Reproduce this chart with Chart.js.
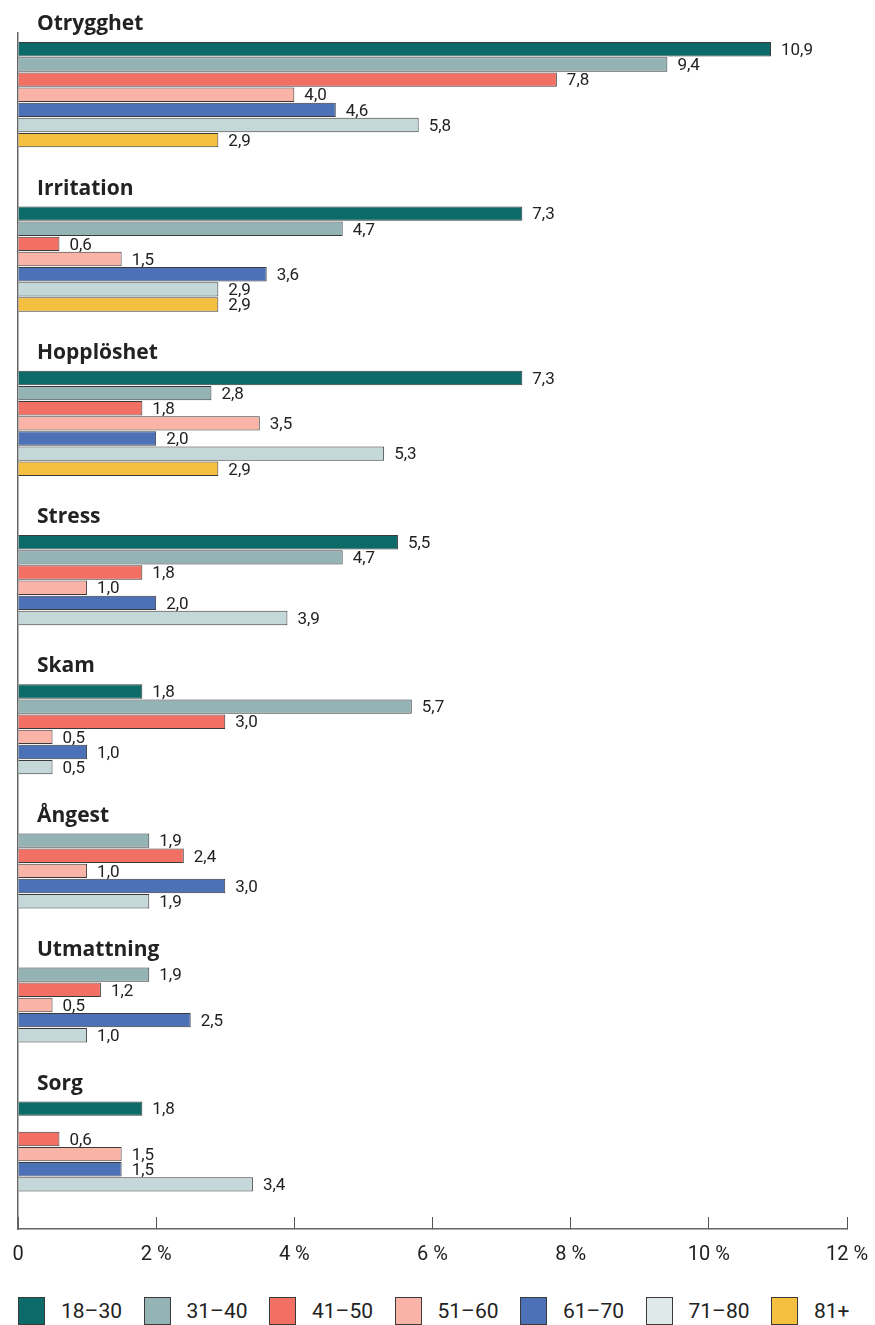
<!DOCTYPE html>
<html>
<head>
<meta charset="utf-8">
<script src="https://cdn.jsdelivr.net/npm/chart.js@4.4.0/dist/chart.umd.min.js"></script>
<style>
  body { margin: 0; background: #fff; }
  #wrap { position: relative; width: 875px; height: 1280px; }
  #legend {
    position: absolute; left: 18px; top: 1297px;
    display: flex; font-family: Roboto, sans-serif; font-size: 21px; color: #222;
  }
  .item { width: 125.5px; display: flex; align-items: center; height: 28px; }
  .box { width: 27px; height: 28px; box-sizing: border-box; border: 1px solid #3a3a3a; margin-right: 16px; }
</style>
</head>
<body>
<div id="wrap"><canvas id="chart"></canvas></div>
<div id="legend"></div>
<script>
// Data
const categories = ["Otrygghet", "Irritation", "Hopplöshet", "Stress", "Skam", "Ångest", "Utmattning", "Sorg"];
const ageGroups = ["18–30", "31–40", "41–50", "51–60", "61–70", "71–80", "81+"];

// percent per age group, same order as categories (null = no bar)
const age18to30 = [10.9, 7.3, 7.3, 5.5, 1.8, null, null, 1.8];
const age31to40 = [9.4, 4.7, 2.8, 4.7, 5.7, 1.9, 1.9, null];
const age41to50 = [7.8, 0.6, 1.8, 1.8, 3.0, 2.4, 1.2, 0.6];
const age51to60 = [4.0, 1.5, 3.5, 1.0, 0.5, 1.0, 0.5, 1.5];
const age61to70 = [4.6, 3.6, 2.0, 2.0, 1.0, 3.0, 2.5, 1.5];
const age71to80 = [5.8, 2.9, 5.3, 3.9, 0.5, 1.9, 1.0, 3.4];
const age81plus = [2.9, 2.9, 2.9, null, null, null, null, null];

const xTicks = [0, 2, 4, 6, 8, 10, 12];

// Colors
const barColors = ["#0c6b69", "#93b3b4", "#f16f63", "#f9b4a7", "#4c71b7", "#c4d7d9", "#f5bf3f"];
const legendColors = ["#0c6b69", "#93b3b4", "#f16f63", "#f9b4a7", "#4c71b7", "#e0e9ea", "#f5bf3f"];
const textColor = "#222";

const seriesValues = [age18to30, age31to40, age41to50, age51to60, age61to70, age71to80, age81plus];

// Row layout: each group holds rows from its first to its last present series
const GROUP_GAP = 3.85;
const rowPos = seriesValues.map(() => []);
const groupStart = [];
let cursor = 0;
categories.forEach((cat, g) => {
  const present = seriesValues
    .map((arr, s) => (arr[g] != null ? s : -1))
    .filter((s) => s >= 0);
  const first = present[0];
  const last = present[present.length - 1];
  groupStart.push(cursor);
  seriesValues.forEach((arr, s) => {
    rowPos[s][g] = cursor + s - first;
  });
  cursor += last - first + 1 + GROUP_GAP;
});
const lastRow = cursor - GROUP_GAP - 1;

const datasets = ageGroups.map((label, s) => ({
  label: label,
  data: categories
    .map((c, g) => ({ x: seriesValues[s][g], y: rowPos[s][g] }))
    .filter((d) => d.x != null),
  backgroundColor: barColors[s],
  borderColor: "#3a3a3a",
  borderWidth: 1,
  grouped: false,
  barPercentage: 0.95,
  categoryPercentage: 1,
}));

// Group titles above each block of bars
const groupTitles = {
  id: "groupTitles",
  afterDatasetsDraw(chart) {
    const { ctx, chartArea } = chart;
    const y = chart.scales.y;
    ctx.save();
    ctx.font = "bold 21px 'Open Sans'";
    ctx.fillStyle = textColor;
    ctx.textBaseline = "middle";
    ctx.textAlign = "left";
    categories.forEach((cat, g) => {
      ctx.fillText(cat, chartArea.left + 19, y.getPixelForValue(groupStart[g]) - 25);
    });
    ctx.restore();
  },
};

// Value labels right of each bar
const valueLabels = {
  id: "valueLabels",
  afterDatasetsDraw(chart) {
    const ctx = chart.ctx;
    ctx.save();
    ctx.font = "17px Roboto";
    ctx.fillStyle = textColor;
    ctx.textBaseline = "middle";
    ctx.textAlign = "left";
    chart.data.datasets.forEach((ds, i) => {
      chart.getDatasetMeta(i).data.forEach((bar, j) => {
        const v = ds.data[j].x;
        ctx.fillText(v.toFixed(1).replace(".", ","), bar.x + 10, bar.y + 1.5);
      });
    });
    ctx.restore();
  },
};

const ctx = document.getElementById("chart").getContext("2d");
new Chart(ctx, {
  type: "bar",
  data: { datasets: datasets },
  options: {
    indexAxis: "y",
    responsive: true,
    maintainAspectRatio: false,
    animation: false,
    layout: { padding: { top: 33, left: 18, right: 28, bottom: 14 } },
    scales: {
      x: {
        type: "linear",
        min: xTicks[0],
        max: xTicks[xTicks.length - 1],
        afterBuildTicks: (axis) => {
          axis.ticks = xTicks.map((v) => ({ value: v }));
        },
        afterFit: (axis) => {
          // ticks point up into the plot, labels sit below
          axis.height = 37;
          axis.paddingLeft = 6;
          axis.paddingRight = 22;
        },
        grid: {
          drawOnChartArea: false,
          drawTicks: true,
          tickLength: -12,
          color: "#555",
          lineWidth: 1,
        },
        border: { display: true, color: "#666", width: 1.5 },
        ticks: {
          padding: 26,
          color: textColor,
          font: { family: "Roboto", size: 20 },
          callback: (v) => (v === 0 ? "0" : v + " %"),
        },
      },
      y: {
        type: "linear",
        reverse: true,
        offset: false,
        min: -1.076,
        max: lastRow + 2.945,
        afterBuildTicks: (axis) => {
          axis.ticks = [];
        },
        afterFit: (axis) => {
          axis.width = 0;
        },
        ticks: { display: false },
        grid: { display: false, drawTicks: false },
        border: { display: true, color: "#666", width: 1.5 },
      },
    },
    plugins: {
      legend: { display: false },
      tooltip: { enabled: false },
    },
  },
  plugins: [groupTitles, valueLabels],
});

// Legend
const legendEl = document.getElementById("legend");
ageGroups.forEach((label, s) => {
  const item = document.createElement("div");
  item.className = "item";
  item.innerHTML = '<span class="box" style="background:' + legendColors[s] + '"></span>' + label;
  legendEl.appendChild(item);
});
</script>
</body>
</html>
